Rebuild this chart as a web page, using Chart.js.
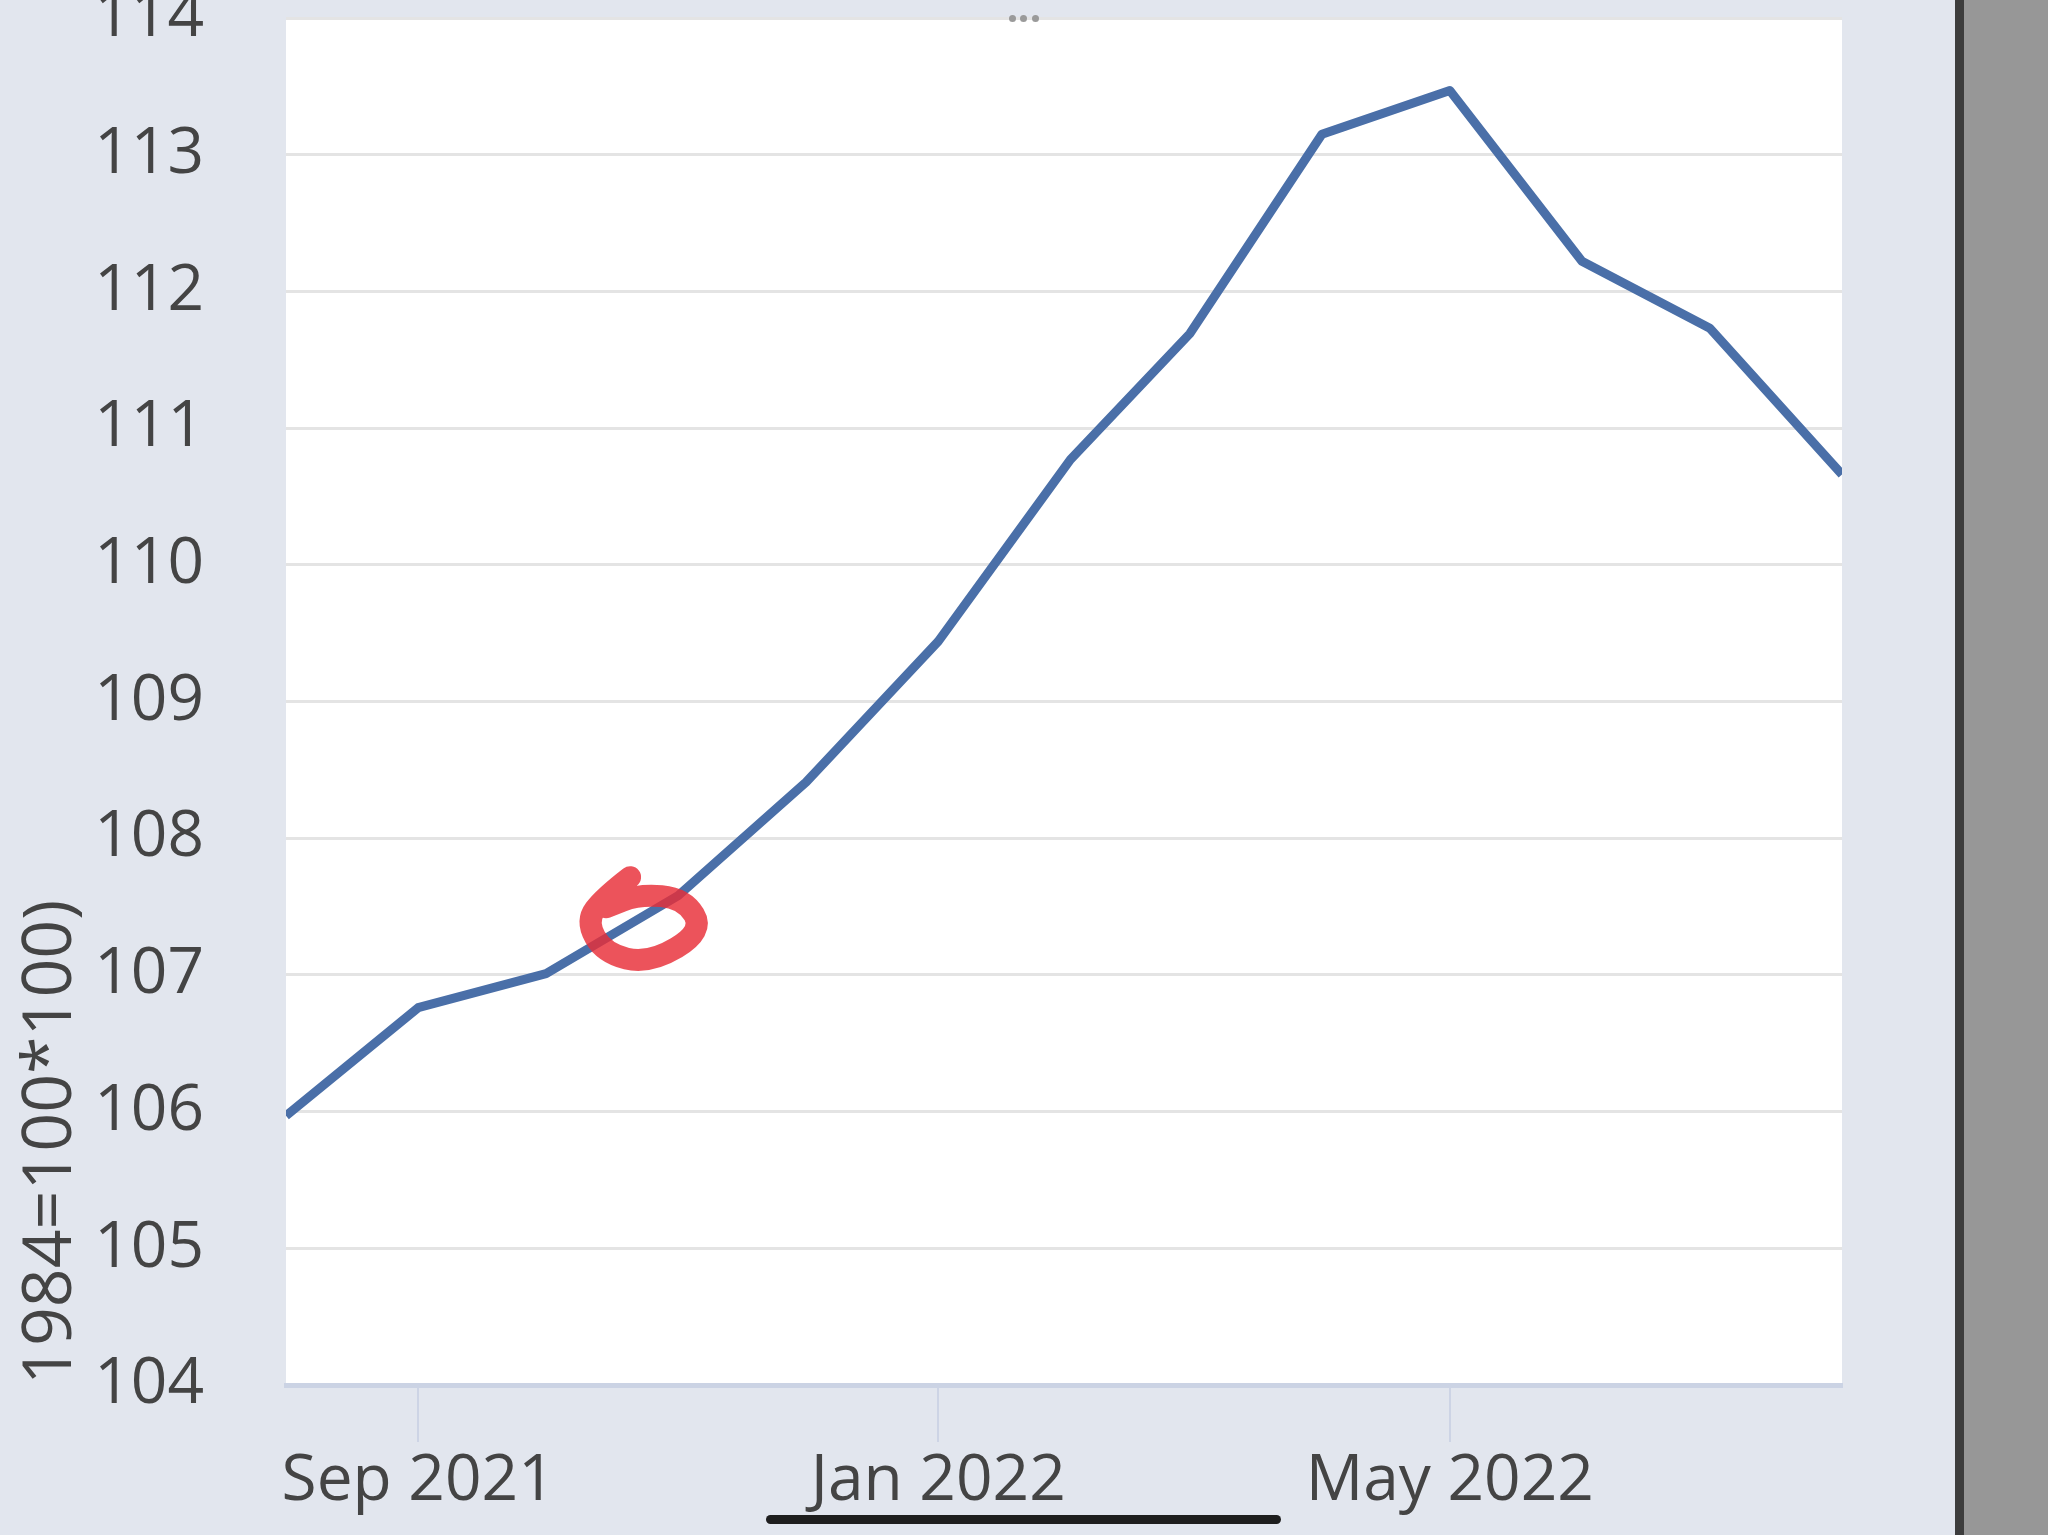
<!DOCTYPE html>
<html>
<head>
<meta charset="utf-8">
<script src="https://cdn.jsdelivr.net/npm/chart.js@4/dist/chart.umd.min.js"></script>
<style>
  html, body { margin: 0; padding: 0; }
  body { width: 2048px; height: 1535px; overflow: hidden; background: #e2e6ee; position: relative; }
  #wrap { position: absolute; left: 0; top: -96px; width: 1955px; height: 1631px; }
  .edge { position: absolute; top: 0; height: 1535px; }
  .dot { position: absolute; top: 15px; width: 7px; height: 7px; border-radius: 50%; background: #9a9a9a; }
  #homebar { position: absolute; left: 766px; top: 1515px; width: 515px; height: 9px; border-radius: 5px; background: #1e1e1e; }
</style>
</head>
<body>
<div id="wrap"><canvas id="cpi-chart"></canvas></div>
<div class="edge" style="left:1955px; width:9px; background:#3d3d3d;"></div>
<div class="edge" style="left:1964px; width:84px; background:#979797;"></div>
<div class="dot" style="left:1009px;"></div>
<div class="dot" style="left:1020px;"></div>
<div class="dot" style="left:1032px;"></div>
<div id="homebar"></div>
<script>
// Data (monthly, first of month)

const months = ["2021-08", "2021-09", "2021-10", "2021-11", "2021-12", "2022-01", "2022-02",
  "2022-03", "2022-04", "2022-05", "2022-06", "2022-07", "2022-08"];
const values = [105.97, 106.76, 107.01, 107.58, 108.41, 109.44, 110.77,
  111.69, 113.15, 113.47, 112.22, 111.73, 110.66];

const tickMonths = ["2021-09", "2022-01", "2022-05"];
const tickLabels = ["Sep 2021", "Jan 2022", "May 2022"];

const yTitle = "1984=100*100)";

// x values are days since the first month
const start = Date.UTC(2021, 7, 1);
const toDays = (m) => {
  const [y, mo] = m.split("-").map(Number);
  return (Date.UTC(y, mo - 1, 1) - start) / 86400000;
};
const points = months.map((m, i) => ({ x: toDays(m), y: values[i] }));
const tickDays = tickMonths.map(toDays);

// hand-drawn red mark, anchored near late Oct 2021
const markAt = { x: toDays("2021-10") + 23, y: 107.32 };
const markPath = [[-14, -54], [-40, -34], [-58, -10], [-40, 22], [5, 33], [60, 0], [40, -33], [-5, -37], [-38, -24]];

const plotBackground = {
  id: "plotBackground",
  beforeDraw(chart) {
    const { ctx, chartArea: a } = chart;
    ctx.save();
    ctx.fillStyle = "#ffffff";
    ctx.fillRect(a.left, a.top, a.right - a.left, a.bottom - a.top);
    ctx.restore();
  },
};

const redMark = {
  id: "redMark",
  afterDatasetsDraw(chart) {
    const { ctx, scales } = chart;
    const cx = scales.x.getPixelForValue(markAt.x);
    const cy = scales.y.getPixelForValue(markAt.y);
    const p = markPath.map(([dx, dy]) => [cx + dx, cy + dy]);
    ctx.save();
    ctx.strokeStyle = "rgba(232, 45, 55, 0.82)";
    ctx.lineWidth = 22;
    ctx.lineCap = "round";
    ctx.lineJoin = "round";
    ctx.beginPath();
    ctx.moveTo(p[0][0], p[0][1]);
    for (let i = 1; i < p.length - 1; i++) {
      const mx = (p[i][0] + p[i + 1][0]) / 2;
      const my = (p[i][1] + p[i + 1][1]) / 2;
      ctx.quadraticCurveTo(p[i][0], p[i][1], mx, my);
    }
    ctx.lineTo(p[p.length - 1][0], p[p.length - 1][1]);
    ctx.stroke();
    ctx.restore();
  },
};

const labelFont = { family: "'Open Sans', sans-serif", size: 64, lineHeight: 1 };

new Chart(document.getElementById("cpi-chart"), {
  type: "line",
  data: {
    datasets: [
      {
        data: points,
        borderColor: "#4a6fa8",
        borderWidth: 9,
        borderJoinStyle: "round",
        pointRadius: 0,
        tension: 0,
        clip: 0,
      },
    ],
  },
  options: {
    responsive: true,
    maintainAspectRatio: false,
    animation: false,
    layout: { padding: { top: 44, right: 113, bottom: 0, left: 0 } },
    plugins: {
      legend: { display: false },
      tooltip: { enabled: false },
    },
    scales: {
      x: {
        type: "linear",
        min: 0,
        max: 365,
        afterBuildTicks: (scale) => {
          scale.ticks = tickDays.map((v) => ({ value: v }));
        },
        afterFit: (scale) => {
          scale.height = 150;
        },
        ticks: {
          font: labelFont,
          color: "#444444",
          padding: 8,
          maxRotation: 0,
          callback: (v) => tickLabels[tickDays.indexOf(v)],
        },
        grid: {
          drawOnChartArea: false,
          drawTicks: true,
          tickLength: 57,
          lineWidth: 2,
          color: "#cdd4e5",
        },
        border: { display: true, color: "#cbd3e4", width: 5 },
      },
      y: {
        min: 104,
        max: 114,
        afterFit: (scale) => {
          scale.width = 286;
        },
        ticks: {
          stepSize: 1,
          font: labelFont,
          color: "#444444",
          padding: 82,
        },
        grid: { color: "#e4e4e4", lineWidth: 3, drawTicks: false },
        border: { display: false },
        title: {
          display: true,
          text: yTitle,
          align: "start",
          color: "#444444",
          font: { family: "'Open Sans', sans-serif", size: 68, lineHeight: 1 },
          padding: { top: 18, bottom: 0 },
        },
      },
    },
  },
  plugins: [plotBackground, redMark],
});
</script>
</body>
</html>
